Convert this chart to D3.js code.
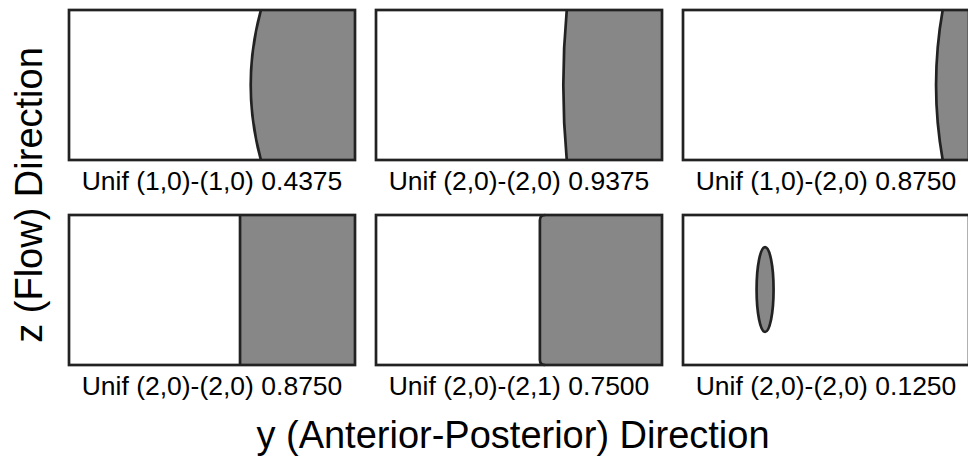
<!DOCTYPE html>
<html>
<head>
<meta charset="utf-8">
<script src="https://cdn.jsdelivr.net/npm/d3@7"></script>
<style>
  html, body { margin: 0; padding: 0; background: #fff; }
  svg { display: block; }
  text { font-family: "Liberation Sans", Arial, Helvetica, sans-serif; fill: #000; }
</style>
</head>
<body>
<svg id="chart" width="968" height="460"></svg>
<script>
// Panel captions: scheme pair and its score
const schemes = [
  "Unif (1,0)-(1,0)", "Unif (2,0)-(2,0)", "Unif (1,0)-(2,0)",
  "Unif (2,0)-(2,0)", "Unif (2,0)-(2,1)", "Unif (2,0)-(2,0)"
];
const scores = [0.4375, 0.9375, 0.8750, 0.8750, 0.7500, 0.1250];

// Region shape per panel
const shapeKinds = ["front", "front", "front", "front", "rounded", "ellipse"];
// Front position (fraction of panel width) at top/bottom edge and at mid-height
const frontEdge = [0.671, 0.667, 0.908, 0.598, 0.573, null];
const frontMid  = [0.636, 0.655, 0.885, 0.598, 0.573, null];
// Corner rounding of the rounded front (fraction of panel height)
const cornerRound = [0, 0, 0, 0, 0.035, 0];
// Ellipse (last panel): centre [y, z] and radii [ry, rz] in panel fractions
const ellipseCenter = [0.287, 0.497];
const ellipseRadii = [0.0297, 0.283];

const xTitle = "y (Anterior-Posterior) Direction";
const yTitle = "z (Flow) Direction";

const FILL = "#878787", INK = "#222", SW = 2.7;
const panelW = 286, panelH = 150;
const colX = d3.scaleOrdinal().domain([0, 1, 2]).range([69, 376, 683]);
const rowY = d3.scaleOrdinal().domain([0, 1]).range([10, 215]);

const svg = d3.select("#chart");
const x = d3.scaleLinear().domain([0, 1]).range([0, panelW]);
const z = d3.scaleLinear().domain([0, 1]).range([0, panelH]);

// Circular-arc front from the top edge to the bottom edge, bowing left to the mid point
function frontPath(edge, mid) {
  const xe = x(edge), xm = x(mid);
  const top = z(0), bot = z(1);
  const s = xe - xm;
  if (s < 0.01) return `M${xe},${top}L${xe},${bot}`;
  const half = (bot - top) / 2;
  const R = (half * half + s * s) / (2 * s);
  return `M${xe},${top}A${R},${R} 0 0 0 ${xe},${bot}`;
}

schemes.forEach((name, i) => {
  const col = i % 3, row = Math.floor(i / 3);
  const g = svg.append("g").attr("transform", `translate(${colX(col)},${rowY(row)})`);

  g.append("rect").attr("width", panelW).attr("height", panelH).attr("fill", "#fff");

  const kind = shapeKinds[i];
  if (kind === "front" || kind === "rounded") {
    let edge;
    if (kind === "front") {
      edge = frontPath(frontEdge[i], frontMid[i]);
    } else {
      const xf = x(frontEdge[i]), r = z(cornerRound[i]);
      edge = `M${xf + r},${z(0)}Q${xf},${z(0)} ${xf},${z(0) + r}` +
             `L${xf},${z(1) - r}Q${xf},${z(1)} ${xf + r},${z(1)}`;
    }
    g.append("path")
      .attr("d", edge + `L${x(1)},${z(1)}L${x(1)},${z(0)}Z`)
      .attr("fill", FILL);
    g.append("path").attr("d", edge).attr("fill", "none")
      .attr("stroke", INK).attr("stroke-width", SW);
  } else {
    g.append("ellipse")
      .attr("cx", x(ellipseCenter[0])).attr("cy", z(ellipseCenter[1]))
      .attr("rx", x(ellipseRadii[0])).attr("ry", z(ellipseRadii[1]))
      .attr("fill", FILL).attr("stroke", INK).attr("stroke-width", SW);
  }

  g.append("rect").attr("width", panelW).attr("height", panelH)
    .attr("fill", "none").attr("stroke", INK).attr("stroke-width", SW);

  g.append("text")
    .attr("x", panelW / 2).attr("y", panelH + 30)
    .attr("text-anchor", "middle").attr("font-size", 26.5)
    .text(`${name} ${scores[i].toFixed(4)}`);
});

svg.append("text")
  .attr("x", 513).attr("y", 448)
  .attr("text-anchor", "middle").attr("font-size", 38)
  .text(xTitle);

svg.append("text")
  .attr("transform", "translate(42,195) rotate(-90)")
  .attr("text-anchor", "middle").attr("font-size", 38)
  .text(yTitle);
</script>
</body>
</html>
